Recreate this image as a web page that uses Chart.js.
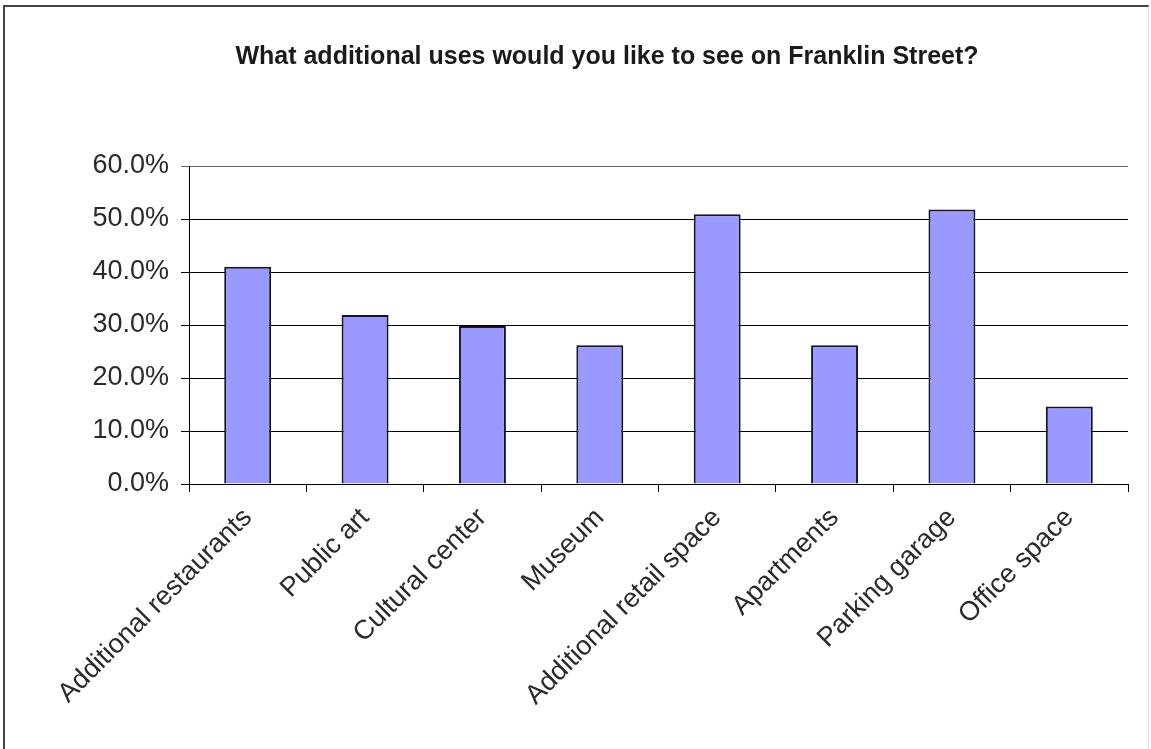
<!DOCTYPE html>
<html>
<head>
<meta charset="utf-8">
<title>Franklin Street survey</title>
<script src="https://cdn.jsdelivr.net/npm/chart.js@4.4.1/dist/chart.umd.min.js"></script>
<style>
    html, body { margin: 0; padding: 0; background: #fff; }
    #wrap { position: relative; width: 1151px; height: 749px; }
    #frame {
        position: absolute; left: 3px; top: 5px; right: 2px; bottom: -4px;
        border-top: 2px solid #444; border-left: 2px solid #444; border-right: 1px solid #d8d8d8;
        pointer-events: none;
    }
</style>
</head>
<body>
<div id="wrap">
    <canvas id="uses-chart" width="1151" height="749"></canvas>
    <div id="frame"></div>
</div>
<script>
// 資料
var categories = ['Additional restaurants', 'Public art', 'Cultural center', 'Museum',
    'Additional retail space', 'Apartments', 'Parking garage', 'Office space'];
var percents = [41.0, 31.9, 29.8, 26.2, 50.9, 26.2, 51.8, 14.6];
var yTicks = [0, 10, 20, 30, 40, 50, 60];
var chartTitle = 'What additional uses would you like to see on Franklin Street?';

var FONT = '"Liberation Sans", Arial, Helvetica, sans-serif';

var ctx = document.getElementById('uses-chart').getContext('2d');
var usesChart = new Chart(ctx, {
    type: 'bar',
    data: {
        labels: categories,
        datasets: [{
            data: percents,
            backgroundColor: '#9999ff',
            borderColor: '#141428',
            borderWidth: 2,
            barPercentage: 0.4,
            categoryPercentage: 1.0
        }]
    },
    options: {
        responsive: false,
        animation: false,
        layout: { padding: { left: 86, right: 23, top: 0, bottom: 0 } },
        plugins: {
            legend: { display: false },
            tooltip: { enabled: false },
            title: {
                display: true,
                text: chartTitle,
                color: '#1a1a1a',
                font: { family: FONT, size: 25, weight: 'bold' },
                padding: { top: 42, bottom: 94 }
            }
        },
        scales: {
            x: {
                grid: {
                    drawOnChartArea: false,
                    drawTicks: true,
                    tickLength: 8,
                    color: '#000'
                },
                border: { color: '#000', width: 1 },
                ticks: {
                    color: '#2a2a2a',
                    font: { family: FONT, size: 27 },
                    minRotation: 45,
                    maxRotation: 45,
                    autoSkip: false,
                    padding: 10
                },
                afterFit: function(scale) { scale.height = 265; }
            },
            y: {
                min: 0,
                max: 60,
                afterBuildTicks: function(scale) {
                    scale.ticks = yTicks.map(function(v) { return { value: v }; });
                },
                grid: {
                    color: function(c) { return c.tick && c.tick.value === 60 ? '#666' : '#000'; },
                    lineWidth: 1,
                    tickLength: 8
                },
                border: { color: '#000', width: 1 },
                ticks: {
                    color: '#2a2a2a',
                    font: { family: FONT, size: 27 },
                    padding: 12,
                    callback: function(v) { return v.toFixed(1) + '%'; }
                },
                afterFit: function(scale) { scale.width = 103; }
            }
        }
    }
});
</script>
</body>
</html>
